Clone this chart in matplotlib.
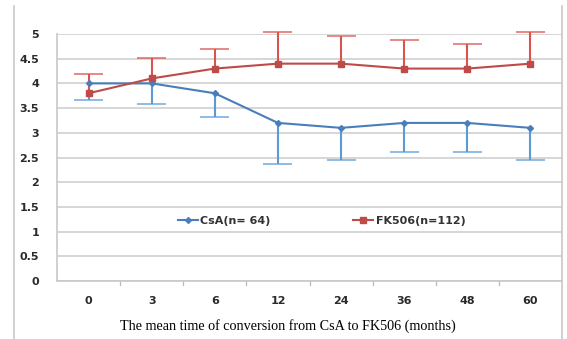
import matplotlib
matplotlib.use("Agg")
import matplotlib.pyplot as plt
from matplotlib.lines import Line2D
import numpy as np

categories = ["0", "3", "6", "12", "24", "36", "48", "60"]
csa = [4.0, 4.0, 3.8, 3.2, 3.1, 3.2, 3.2, 3.1]
csa_err = [0.33, 0.42, 0.48, 0.83, 0.65, 0.58, 0.58, 0.65]
fk = [3.8, 4.1, 4.3, 4.4, 4.4, 4.3, 4.3, 4.4]
fk_err = [0.39, 0.41, 0.39, 0.64, 0.56, 0.58, 0.50, 0.64]
yticks = [0, 0.5, 1, 1.5, 2, 2.5, 3, 3.5, 4, 4.5, 5]
ytick_labels = ["0", "0.5", "1", "1.5", "2", "2.5", "3", "3.5", "4", "4.5", "5"]

W, H = 567, 339
fig = plt.figure(figsize=(W/100, H/100), dpi=100)
ax = fig.add_axes([57/W, 1-281/H, (562-57)/W, (281-34)/H])

x = np.arange(len(categories))
blue_line = "#4A7EBB"
blue_err = "#5B9BD5"
red_line = "#BE4B48"
red_err = "#D9534F"

csa_a = np.array(csa); fk_a = np.array(fk)
csa_lo = csa_a - np.array(csa_err)
fk_hi = fk_a + np.array(fk_err)
cw = 0.23
ax.vlines(x, csa_lo, csa_a, color=blue_err, lw=1.5, zorder=3)
ax.hlines(csa_lo, x - cw, x + cw, color=blue_err, lw=1.2, zorder=3, alpha=0.8)
ax.vlines(x, fk_a, fk_hi, color=red_err, lw=1.5, zorder=3, clip_on=False)
ax.hlines(fk_hi, x - cw, x + cw, color=red_err, lw=1.2, zorder=3, alpha=0.8, clip_on=False)
ax.plot(x, csa, color=blue_line, lw=1.5, marker="D", ms=3, zorder=4, clip_on=False)
ax.plot(x, fk, color=red_line, lw=1.5, marker="s", ms=4.5, zorder=5, clip_on=False)

ax.set_xlim(-0.5, len(x)-0.5)
ax.set_ylim(0, 5)
ax.set_yticks(yticks)
ax.set_yticklabels(ytick_labels, fontsize=8, fontweight="bold", color="#2a2a2a")
ax.set_xticks(x)
ax.set_xticklabels(categories, fontsize=8, fontweight="bold", color="#2a2a2a")
ax.tick_params(axis="y", length=0, pad=13)
ax.tick_params(axis="x", length=0, pad=11)
for xb in x[:-1] + 0.5:
    ax.plot([xb, xb], [0, -0.09], color="#BBBBBB", lw=0.9, clip_on=False)
ax.grid(axis="y", color="#D0D0D0", lw=1.2)
ax.set_axisbelow(True)
for s in ["top", "right"]:
    ax.spines[s].set_visible(False)
ax.spines["left"].set_color("#C8C8C8")
ax.spines["bottom"].set_color("#C8C8C8")
ax.spines["left"].set_linewidth(1.2)
ax.spines["bottom"].set_linewidth(1.2)

ax.set_xlabel("The mean time of conversion from CsA to FK506 (months)",
              fontfamily="Liberation Serif", fontsize=10.2)
ax.xaxis.set_label_coords((288-57)/505, (281-319)/247)

h1 = Line2D([], [], color=blue_line, lw=1.5, marker="D", ms=3)
h2 = Line2D([], [], color=red_line, lw=1.5, marker="s", ms=4)
ax.legend([h1, h2], ["CsA(n= 64)", "FK506(n=112)"], ncol=2, frameon=False,
          loc="center", bbox_to_anchor=(0.5 + 12/505, (281-221)/(281-34)),
          prop={"size": 8, "weight": "bold"}, handlelength=1.8, columnspacing=7.5,
          handletextpad=0.2, labelcolor="#333333")

fig.add_artist(Line2D([14/W, 14/W], [0, 1-6/H], color="#C8C8C8", lw=1.2))
fig.add_artist(Line2D([562/W, 562/W], [0, 1-6/H], color="#C8C8C8", lw=1.2))

fig.savefig("out.png", dpi=100)
